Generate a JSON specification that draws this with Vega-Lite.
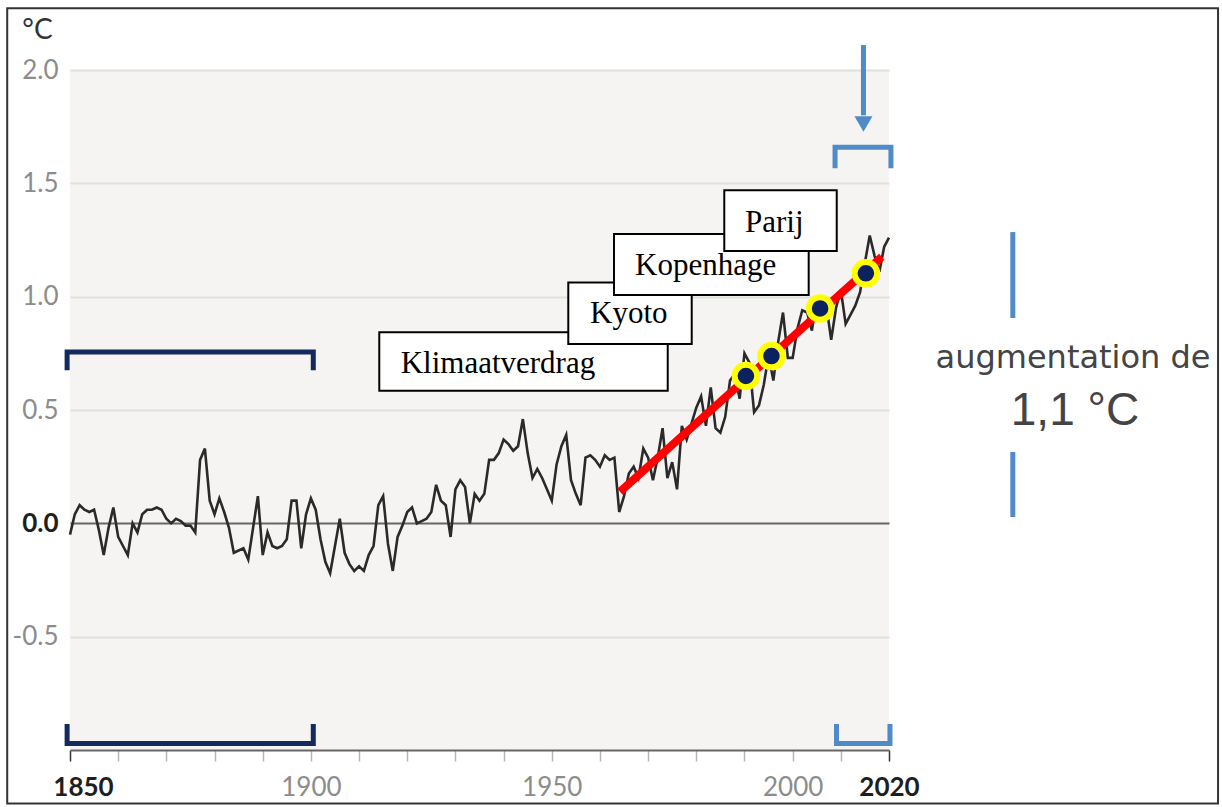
{
  "$schema": "https://vega.github.io/schema/vega-lite/v6.json",
  "width": 819,
  "height": 680,
  "autosize": {"type": "none"},
  "padding": {"left": 70, "top": 70, "right": 333, "bottom": 57},
  "background": "white",
  "config": {"view": {"fill": "#f5f4f2", "stroke": null}, "font": "Lato"},
  "datasets": {
    "temps": [
      {"year":1850,"t":-0.05},{"year":1851,"t":0.04},{"year":1852,"t":0.08},{"year":1853,"t":0.06},{"year":1854,"t":0.05},
      {"year":1855,"t":0.06},{"year":1856,"t":-0.03},{"year":1857,"t":-0.14},{"year":1858,"t":-0.02},{"year":1859,"t":0.07},
      {"year":1860,"t":-0.06},{"year":1861,"t":-0.10},{"year":1862,"t":-0.14},{"year":1863,"t":0.00},{"year":1864,"t":-0.04},
      {"year":1865,"t":0.04},{"year":1866,"t":0.06},{"year":1867,"t":0.06},{"year":1868,"t":0.07},{"year":1869,"t":0.06},
      {"year":1870,"t":0.02},{"year":1871,"t":0.00},{"year":1872,"t":0.02},{"year":1873,"t":0.01},{"year":1874,"t":-0.01},
      {"year":1875,"t":-0.01},{"year":1876,"t":-0.04},{"year":1877,"t":0.28},{"year":1878,"t":0.33},{"year":1879,"t":0.10},
      {"year":1880,"t":0.04},{"year":1881,"t":0.11},{"year":1882,"t":0.05},{"year":1883,"t":-0.02},{"year":1884,"t":-0.13},
      {"year":1885,"t":-0.12},{"year":1886,"t":-0.11},{"year":1887,"t":-0.16},{"year":1888,"t":-0.02},{"year":1889,"t":0.12},
      {"year":1890,"t":-0.14},{"year":1891,"t":-0.04},{"year":1892,"t":-0.10},{"year":1893,"t":-0.11},{"year":1894,"t":-0.10},
      {"year":1895,"t":-0.07},{"year":1896,"t":0.10},{"year":1897,"t":0.10},{"year":1898,"t":-0.11},{"year":1899,"t":0.04},
      {"year":1900,"t":0.11},{"year":1901,"t":0.06},{"year":1902,"t":-0.07},{"year":1903,"t":-0.17},{"year":1904,"t":-0.22},
      {"year":1905,"t":-0.10},{"year":1906,"t":0.02},{"year":1907,"t":-0.13},{"year":1908,"t":-0.18},{"year":1909,"t":-0.21},
      {"year":1910,"t":-0.19},{"year":1911,"t":-0.21},{"year":1912,"t":-0.14},{"year":1913,"t":-0.10},{"year":1914,"t":0.08},
      {"year":1915,"t":0.12},{"year":1916,"t":-0.09},{"year":1917,"t":-0.21},{"year":1918,"t":-0.06},{"year":1919,"t":-0.01},
      {"year":1920,"t":0.05},{"year":1921,"t":0.07},{"year":1922,"t":0.00},{"year":1923,"t":0.01},{"year":1924,"t":0.02},
      {"year":1925,"t":0.05},{"year":1926,"t":0.17},{"year":1927,"t":0.10},{"year":1928,"t":0.08},{"year":1929,"t":-0.06},
      {"year":1930,"t":0.15},{"year":1931,"t":0.19},{"year":1932,"t":0.16},{"year":1933,"t":0.00},{"year":1934,"t":0.13},
      {"year":1935,"t":0.10},{"year":1936,"t":0.13},{"year":1937,"t":0.28},{"year":1938,"t":0.28},{"year":1939,"t":0.31},
      {"year":1940,"t":0.37},{"year":1941,"t":0.35},{"year":1942,"t":0.32},{"year":1943,"t":0.34},{"year":1944,"t":0.46},
      {"year":1945,"t":0.31},{"year":1946,"t":0.20},{"year":1947,"t":0.24},{"year":1948,"t":0.20},{"year":1949,"t":0.15},
      {"year":1950,"t":0.10},{"year":1951,"t":0.26},{"year":1952,"t":0.34},{"year":1953,"t":0.39},{"year":1954,"t":0.19},
      {"year":1955,"t":0.13},{"year":1956,"t":0.08},{"year":1957,"t":0.29},{"year":1958,"t":0.30},{"year":1959,"t":0.28},
      {"year":1960,"t":0.25},{"year":1961,"t":0.30},{"year":1962,"t":0.28},{"year":1963,"t":0.29},{"year":1964,"t":0.05},
      {"year":1965,"t":0.12},{"year":1966,"t":0.22},{"year":1967,"t":0.25},{"year":1968,"t":0.20},{"year":1969,"t":0.33},
      {"year":1970,"t":0.29},{"year":1971,"t":0.19},{"year":1972,"t":0.29},{"year":1973,"t":0.42},{"year":1974,"t":0.20},
      {"year":1975,"t":0.27},{"year":1976,"t":0.15},{"year":1977,"t":0.43},{"year":1978,"t":0.37},{"year":1979,"t":0.44},
      {"year":1980,"t":0.51},{"year":1981,"t":0.56},{"year":1982,"t":0.43},{"year":1983,"t":0.60},{"year":1984,"t":0.42},
      {"year":1985,"t":0.40},{"year":1986,"t":0.47},{"year":1987,"t":0.63},{"year":1988,"t":0.66},{"year":1989,"t":0.55},
      {"year":1990,"t":0.75},{"year":1991,"t":0.71},{"year":1992,"t":0.49},{"year":1993,"t":0.52},{"year":1994,"t":0.61},
      {"year":1995,"t":0.74},{"year":1996,"t":0.63},{"year":1997,"t":0.80},{"year":1998,"t":0.93},{"year":1999,"t":0.73},
      {"year":2000,"t":0.73},{"year":2001,"t":0.86},{"year":2002,"t":0.94},{"year":2003,"t":0.93},{"year":2004,"t":0.85},
      {"year":2005,"t":1.00},{"year":2006,"t":0.94},{"year":2007,"t":0.96},{"year":2008,"t":0.81},{"year":2009,"t":0.95},
      {"year":2010,"t":1.03},{"year":2011,"t":0.88},{"year":2012,"t":0.92},{"year":2013,"t":0.96},{"year":2014,"t":1.02},
      {"year":2015,"t":1.15},{"year":2016,"t":1.27},{"year":2017,"t":1.18},{"year":2018,"t":1.11},{"year":2019,"t":1.22},
      {"year":2020,"t":1.26}
    ],
    "trend": [{"year":1964.16,"t":0.139},{"year":2018.5,"t":1.176}],
    "events": [{"year":1990.3,"t":0.650},{"year":1995.6,"t":0.738},{"year":2005.7,"t":0.948},{"year":2015.2,"t":1.103}],
    "guides": [
      {"g":"navyTop","c":"navy","o":1,"x":1849.4,"y":0.675},{"g":"navyTop","c":"navy","o":2,"x":1849.4,"y":0.756},
      {"g":"navyTop","c":"navy","o":3,"x":1900.5,"y":0.756},{"g":"navyTop","c":"navy","o":4,"x":1900.5,"y":0.675},
      {"g":"navyBot","c":"navy","o":1,"x":1849.4,"y":-0.885},{"g":"navyBot","c":"navy","o":2,"x":1849.4,"y":-0.971},
      {"g":"navyBot","c":"navy","o":3,"x":1900.5,"y":-0.971},{"g":"navyBot","c":"navy","o":4,"x":1900.5,"y":-0.885},
      {"g":"blueTop","c":"blue","o":1,"x":2008.8,"y":1.566},{"g":"blueTop","c":"blue","o":2,"x":2008.8,"y":1.659},
      {"g":"blueTop","c":"blue","o":3,"x":2020.4,"y":1.659},{"g":"blueTop","c":"blue","o":4,"x":2020.4,"y":1.566},
      {"g":"blueBot","c":"blue","o":1,"x":2009.1,"y":-0.885},{"g":"blueBot","c":"blue","o":2,"x":2009.1,"y":-0.971},
      {"g":"blueBot","c":"blue","o":3,"x":2020.2,"y":-0.971},{"g":"blueBot","c":"blue","o":4,"x":2020.2,"y":-0.885},
      {"g":"arrow","c":"blue","o":1,"x":2014.7,"y":2.110},{"g":"arrow","c":"blue","o":2,"x":2014.7,"y":1.80},
      {"g":"rightTop","c":"blue","o":1,"x":2045.7,"y":1.285},{"g":"rightTop","c":"blue","o":2,"x":2045.7,"y":0.906},
      {"g":"rightBot","c":"blue","o":1,"x":2045.7,"y":0.315},{"g":"rightBot","c":"blue","o":2,"x":2045.7,"y":0.028}
    ],
    "arrowhead": [{"x":2014.7,"y":1.762}],
    "boxes": [
      {"label":"Klimaatverdrag","x":1914.2,"x2":1974.07,"y":0.843,"y2":0.585,"tx":1918.64,"ty":0.664},
      {"label":"Kyoto","x":1953.43,"x2":1979.05,"y":1.063,"y2":0.791,"tx":1957.94,"ty":0.885},
      {"label":"Kopenhage","x":1962.92,"x2":2003.33,"y":1.276,"y2":1.007,"tx":1967.28,"ty":1.095},
      {"label":"Parij","x":1985.81,"x2":2009.15,"y":1.470,"y2":1.201,"tx":1990.11,"ty":1.286}
    ],
    "frame": [{"x":1836.97,"x2":2088.3,"y":2.272,"y2":-1.236}],
    "notes": [
      {"text":"augmentation de","x":2058.2,"y":0.685,"kind":"small"},
      {"text":"1,1 °C","x":2058.6,"y":0.434,"kind":"big"}
    ]
  },
  "layer": [
    {
      "data": {"name": "temps"},
      "mark": {"type": "line", "color": "#2a2a2a", "strokeWidth": 2.6},
      "encoding": {
        "x": {
          "field": "year", "type": "quantitative",
          "scale": {"domain": [1850, 2020], "nice": false, "zero": false},
          "axis": {
            "title": null,
            "values": [1850,1860,1870,1880,1890,1900,1910,1920,1930,1940,1950,1960,1970,1980,1990,2000,2010,2020],
            "labelExpr": "(datum.value % 50 == 0 || datum.value == 2020) ? '' + datum.value : ''",
            "labelOverlap": false,
            "labelFlush": false,
            "labelFont": "Lato",
            "labelFontSize": 26,
            "labelPadding": 13,
            "labelColor": {"condition": {"test": "datum.value == 1850 || datum.value == 2020", "value": "#1e1e1e"}, "value": "#8c8c8c"},
            "labelFontWeight": {"condition": {"test": "datum.value == 1850 || datum.value == 2020", "value": "bold"}, "value": "normal"},
            "labelOffset": {"condition": {"test": "datum.value == 1850", "value": 13}, "value": 0},
            "tickSize": 11,
            "tickWidth": 1.5,
            "tickColor": {"condition": {"test": "datum.value == 1850 || datum.value == 2020", "value": "#333333"}, "value": "#b5b5b5"},
            "domainColor": "#666666",
            "domainWidth": 2,
            "grid": false
          }
        },
        "y": {
          "field": "t", "type": "quantitative",
          "scale": {"domain": [-1, 2], "nice": false, "zero": false},
          "axis": {
            "title": "°C",
            "titleAngle": 0,
            "titleX": -33,
            "titleY": -32,
            "titleAlign": "center",
            "titleBaseline": "alphabetic",
            "titleFont": "Lato",
            "titleFontSize": 28,
            "titleFontWeight": "normal",
            "titleColor": "#333333",
            "values": [-0.5, 0, 0.5, 1, 1.5, 2],
            "labelExpr": "replace(format(datum.value, '.1f'), '\u2212', '-')",
            "labelFont": "Lato",
            "labelFontSize": 26,
            "labelPadding": 12,
            "labelColor": {"condition": {"test": "datum.value == 0", "value": "#1e1e1e"}, "value": "#8c8c8c"},
            "labelFontWeight": {"condition": {"test": "datum.value == 0", "value": "bold"}, "value": "normal"},
            "ticks": false,
            "domain": false,
            "grid": true,
            "gridColor": {"condition": {"test": "datum.value == 0", "value": "#666666"}, "value": "#e0dfdc"},
            "gridWidth": 2
          }
        }
      }
    },
    {
      "data": {"name": "frame"},
      "mark": {"type": "rect", "fill": null, "fillOpacity": 0, "stroke": "#333333", "strokeWidth": 2},
      "encoding": {
        "x": {"field": "x", "type": "quantitative"},
        "x2": {"field": "x2"},
        "y": {"field": "y", "type": "quantitative"},
        "y2": {"field": "y2"}
      }
    },
    {
      "data": {"name": "trend"},
      "mark": {"type": "line", "color": "#ff0000", "strokeWidth": 8, "strokeCap": "butt"},
      "encoding": {
        "x": {"field": "year", "type": "quantitative"},
        "y": {"field": "t", "type": "quantitative"}
      }
    },
    {
      "data": {"name": "events"},
      "mark": {"type": "point", "filled": true, "fill": "#0b2160", "stroke": "#ffff00", "strokeWidth": 6, "size": 510, "opacity": 1},
      "encoding": {
        "x": {"field": "year", "type": "quantitative"},
        "y": {"field": "t", "type": "quantitative"}
      }
    },
    {
      "data": {"name": "guides"},
      "mark": {"type": "line", "strokeWidth": 5, "strokeCap": "butt", "strokeJoin": "miter"},
      "encoding": {
        "x": {"field": "x", "type": "quantitative"},
        "y": {"field": "y", "type": "quantitative"},
        "detail": {"field": "g", "type": "nominal"},
        "order": {"field": "o", "type": "quantitative"},
        "color": {"field": "c", "type": "nominal", "scale": {"domain": ["navy", "blue"], "range": ["#14295e", "#4f8bc9"]}, "legend": null}
      }
    },
    {
      "data": {"name": "arrowhead"},
      "mark": {"type": "point", "shape": "triangle-down", "filled": true, "color": "#4f8bc9", "size": 324, "opacity": 1},
      "encoding": {
        "x": {"field": "x", "type": "quantitative"},
        "y": {"field": "y", "type": "quantitative"}
      }
    },
    {
      "data": {"name": "boxes"},
      "mark": {"type": "rect", "fill": "white", "stroke": "#000000", "strokeWidth": 2},
      "encoding": {
        "x": {"field": "x", "type": "quantitative"},
        "x2": {"field": "x2"},
        "y": {"field": "y", "type": "quantitative"},
        "y2": {"field": "y2"}
      }
    },
    {
      "data": {"name": "boxes"},
      "mark": {"type": "text", "font": "Liberation Serif", "fontSize": 31, "align": "left", "baseline": "alphabetic", "color": "#000000"},
      "encoding": {
        "x": {"field": "tx", "type": "quantitative"},
        "y": {"field": "ty", "type": "quantitative"},
        "text": {"field": "label"}
      }
    },
    {
      "data": {"name": "notes"},
      "transform": [{"filter": "datum.kind == 'small'"}],
      "mark": {"type": "text", "font": "DejaVu Sans", "fontSize": 32, "align": "center", "baseline": "alphabetic", "color": "#444444"},
      "encoding": {
        "x": {"field": "x", "type": "quantitative"},
        "y": {"field": "y", "type": "quantitative"},
        "text": {"field": "text"}
      }
    },
    {
      "data": {"name": "notes"},
      "transform": [{"filter": "datum.kind == 'big'"}],
      "mark": {"type": "text", "font": "Liberation Sans", "fontSize": 46, "align": "center", "baseline": "alphabetic", "color": "#444444"},
      "encoding": {
        "x": {"field": "x", "type": "quantitative"},
        "y": {"field": "y", "type": "quantitative"},
        "text": {"field": "text"}
      }
    }
  ]
}
